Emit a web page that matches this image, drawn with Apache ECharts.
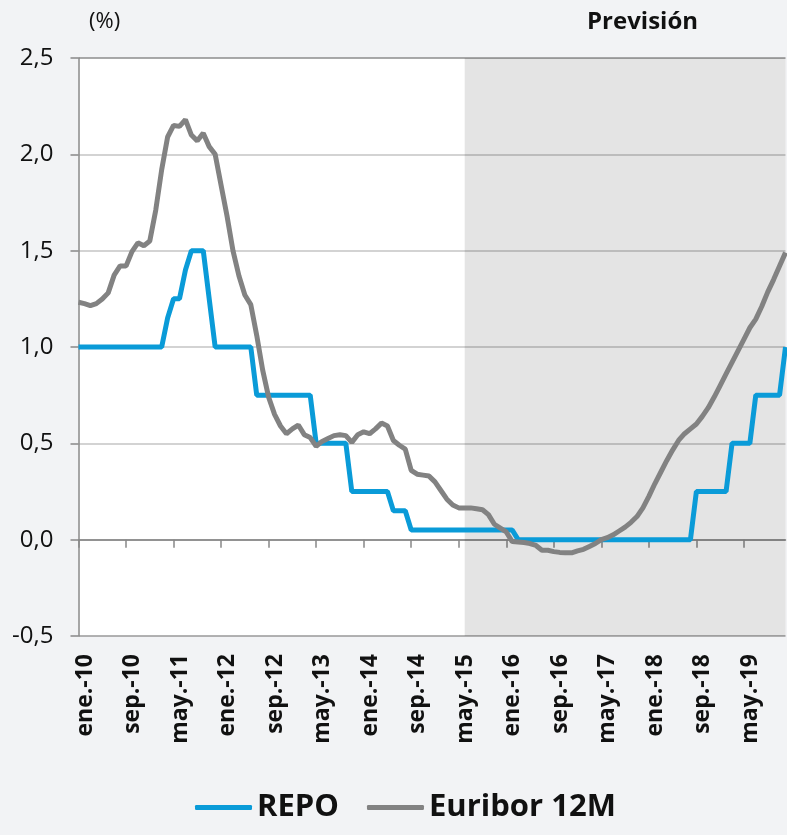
<!DOCTYPE html>
<html>
<head>
<meta charset="utf-8">
<script src="https://cdn.jsdelivr.net/npm/echarts@6/dist/echarts.min.js"></script>
<style>
  html, body { margin: 0; padding: 0; background: #f2f3f5; }
  #chart { width: 787px; height: 835px; }
</style>
</head>
<body>
<div id="chart"></div>
<script>
// monthly categories ene.-10 ... dic.-19
var monthNames = ['ene.', 'feb.', 'mar.', 'abr.', 'may.', 'jun.', 'jul.', 'ago.', 'sep.', 'oct.', 'nov.', 'dic.'];
var yearNames = ['10', '11', '12', '13', '14', '15', '16', '17', '18', '19'];
var categories = [];
yearNames.forEach(function (y) {
  monthNames.forEach(function (m) { categories.push(m + '-' + y); });
});

var yTicks = [-0.5, 0, 0.5, 1, 1.5, 2, 2.5];
var forecastFrom = 'jun.-15';
var forecastTo = 'dic.-19';

// REPO (%)
var repo = [
  1, 1, 1, 1, 1, 1, 1, 1, 1, 1, 1, 1,
  1, 1, 1, 1.15, 1.25, 1.25, 1.4, 1.5, 1.5, 1.5, 1.25, 1,
  1, 1, 1, 1, 1, 1, 0.75, 0.75, 0.75, 0.75, 0.75, 0.75,
  0.75, 0.75, 0.75, 0.75, 0.5, 0.5, 0.5, 0.5, 0.5, 0.5, 0.25, 0.25,
  0.25, 0.25, 0.25, 0.25, 0.25, 0.15, 0.15, 0.15, 0.05, 0.05, 0.05, 0.05,
  0.05, 0.05, 0.05, 0.05, 0.05, 0.05, 0.05, 0.05, 0.05, 0.05, 0.05, 0.05,
  0.05, 0.05, 0, 0, 0, 0, 0, 0, 0, 0, 0, 0,
  0, 0, 0, 0, 0, 0, 0, 0, 0, 0, 0, 0,
  0, 0, 0, 0, 0, 0, 0, 0, 0.25, 0.25, 0.25, 0.25,
  0.25, 0.25, 0.5, 0.5, 0.5, 0.5, 0.75, 0.75, 0.75, 0.75, 0.75, 1
];

// Euribor 12M (%)
var euribor = [
  1.232, 1.225, 1.215, 1.225, 1.249, 1.281, 1.373, 1.421, 1.42, 1.495, 1.541, 1.526,
  1.55, 1.71, 1.92, 2.09, 2.15, 2.145, 2.18, 2.1, 2.07, 2.11, 2.04, 2.0,
  1.84, 1.68, 1.5, 1.37, 1.27, 1.22, 1.06, 0.88, 0.74, 0.65, 0.59, 0.55,
  0.575, 0.595, 0.545, 0.53, 0.485, 0.51, 0.525, 0.54, 0.545, 0.54, 0.505, 0.545,
  0.56, 0.55, 0.575, 0.605, 0.59, 0.515, 0.49, 0.47, 0.36, 0.34, 0.335, 0.33,
  0.3, 0.255, 0.21, 0.18, 0.165, 0.165, 0.165, 0.16, 0.155, 0.13, 0.08, 0.06,
  0.04, -0.01, -0.012, -0.015, -0.02, -0.03, -0.055, -0.055, -0.062, -0.066, -0.068, -0.068,
  -0.058, -0.05, -0.035, -0.02, 0, 0.01, 0.025, 0.045, 0.065, 0.09, 0.12, 0.165,
  0.225, 0.29, 0.35, 0.41, 0.465, 0.515, 0.55, 0.575, 0.6, 0.64, 0.685, 0.74,
  0.8, 0.86, 0.92, 0.98, 1.04, 1.1, 1.145, 1.21, 1.285, 1.35, 1.42, 1.49
];

var font = '"Open Sans", "DejaVu Sans", sans-serif';
var chart = echarts.init(document.getElementById('chart'));

chart.setOption({
  animation: false,
  backgroundColor: '#f2f3f5',
  textStyle: { fontFamily: font },
  title: [
    { text: '(%)', left: 84, top: 6, textStyle: { fontSize: 22, fontWeight: 'normal', color: '#111', fontFamily: font } },
    { text: 'Previsión', left: 582, top: 5, textStyle: { fontSize: 24, fontWeight: 'bold', color: '#111', fontFamily: font } }
  ],
  legend: {
    bottom: 7,
    left: 190,
    icon: 'roundRect',
    itemWidth: 57,
    itemHeight: 5,
    itemGap: 28,
    textStyle: { fontSize: 31, fontWeight: 'bold', color: '#111', fontFamily: font },
    data: ['REPO', 'Euribor 12M']
  },
  grid: {
    left: 78.5, right: 1.5, top: 58, bottom: 199,
    show: true, backgroundColor: '#ffffff', borderWidth: 0
  },
  xAxis: [
    {
      type: 'category',
      data: categories,
      boundaryGap: false,
      position: 'bottom',
      axisLine: { onZero: true, lineStyle: { color: '#888', width: 1.5 } },
      axisTick: { show: true, interval: 7, length: 8, lineStyle: { color: '#888', width: 1.5 } },
      axisLabel: { show: false },
      splitLine: { show: false }
    },
    {
      type: 'category',
      data: categories,
      boundaryGap: false,
      position: 'bottom',
      axisLine: { show: false, onZero: false },
      axisTick: { show: false },
      axisLabel: {
        interval: 7,
        rotate: 90,
        margin: 18,
        verticalAlign: 'top',
        lineHeight: 13,
        fontSize: 23,
        fontWeight: 'bold',
        color: '#111',
        fontFamily: font
      },
      splitLine: { show: false }
    }
  ],
  yAxis: {
    type: 'value',
    min: yTicks[0],
    max: yTicks[yTicks.length - 1],
    interval: 0.5,
    axisLine: { show: true, lineStyle: { color: '#888', width: 1.5 } },
    axisTick: { show: true, length: 8, lineStyle: { color: '#888', width: 1.5 } },
    axisLabel: {
      margin: 25,
      fontSize: 24,
      color: '#111',
      fontFamily: font,
      formatter: function (v) { return v.toFixed(1).replace('.', ','); }
    },
    splitLine: {
      show: true,
      lineStyle: {
        color: ['#999', '#999', '#c4c4c4', '#c4c4c4', '#c4c4c4', '#c4c4c4', '#8c8c8c'],
        width: 1.5
      }
    }
  },
  series: [
    {
      name: 'REPO',
      type: 'line',
      data: repo,
      symbol: 'none',
      color: '#0a9bd8',
      lineStyle: { width: 5, color: '#0a9bd8' },
      markArea: {
        silent: true,
        itemStyle: { color: 'rgba(0,0,0,0.105)' },
        data: [[{ xAxis: forecastFrom }, { xAxis: forecastTo }]]
      }
    },
    {
      name: 'Euribor 12M',
      type: 'line',
      data: euribor,
      symbol: 'none',
      color: '#828282',
      lineStyle: { width: 5, color: '#828282' }
    }
  ]
});
</script>
</body>
</html>
